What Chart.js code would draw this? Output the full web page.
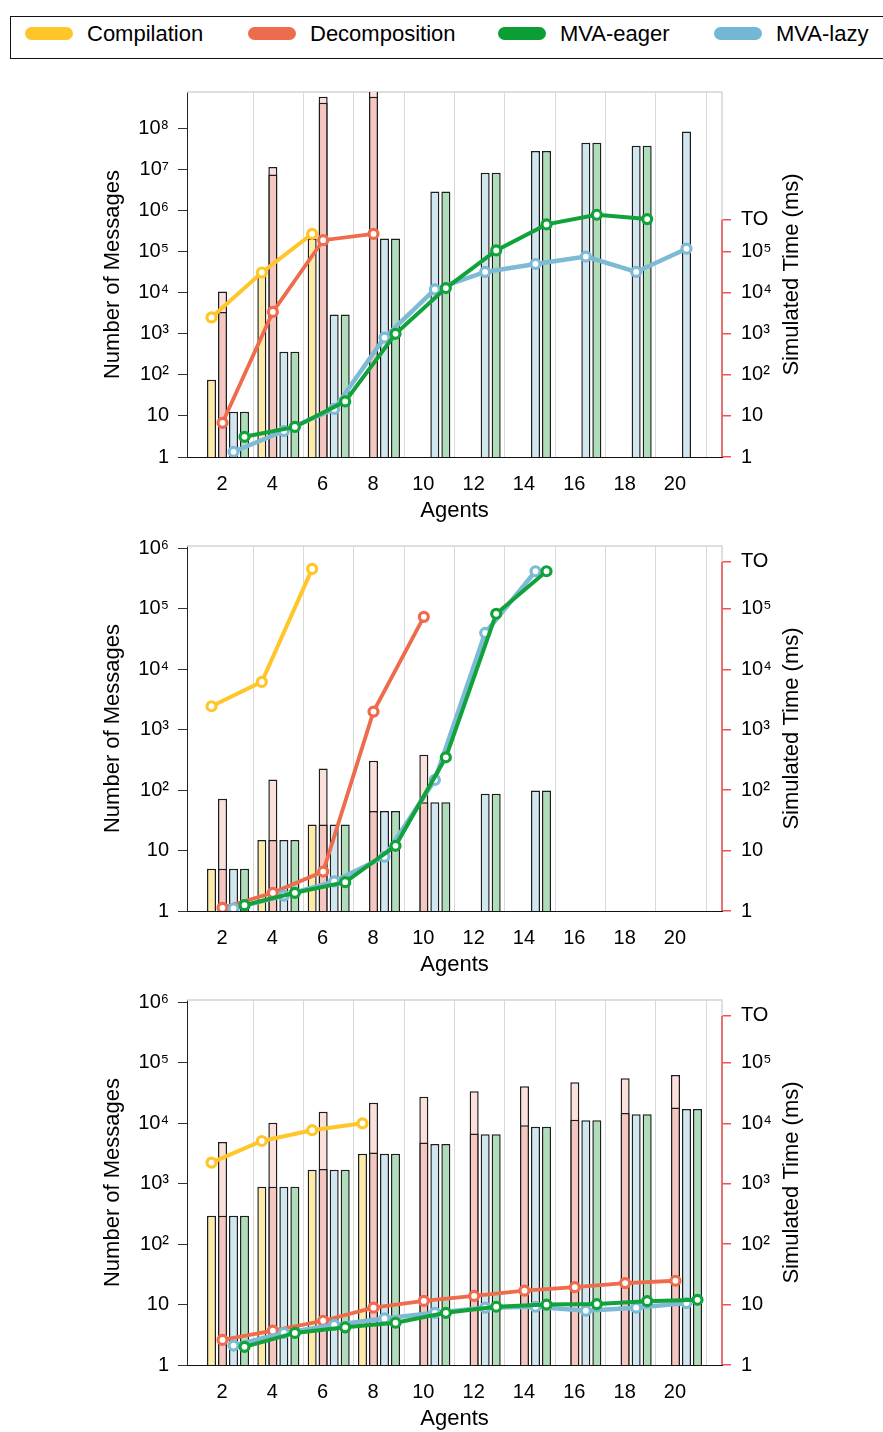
<!DOCTYPE html>
<html>
<head>
<meta charset="utf-8">
<script src="https://cdn.jsdelivr.net/npm/chart.js@4.4.1/dist/chart.umd.min.js"></script>
<style>
  body { margin: 0; width: 883px; height: 1432px; position: relative; background: #fff; overflow: hidden;
         font-family: "Liberation Sans", Arial, sans-serif; }
  #legend { position: absolute; left: 10px; top: 16px; width: 900px; height: 41px; border: 1px solid #111; }
  .item { position: absolute; top: 0; height: 33px; display: flex; align-items: center; font-size: 22px; color: #000; }
  .pill { width: 48px; height: 13px; border-radius: 7px; margin-right: 14px; }
  canvas { position: absolute; left: 0; }
</style>
</head>
<body>
<div id="legend">
  <div class="item" style="left:14px"><span class="pill" style="background:#FFC629"></span>Compilation</div>
  <div class="item" style="left:237px"><span class="pill" style="background:#EE6C4D"></span>Decomposition</div>
  <div class="item" style="left:487px"><span class="pill" style="background:#0A9E35"></span>MVA-eager</div>
  <div class="item" style="left:703px"><span class="pill" style="background:#73B7D5"></span>MVA-lazy</div>
</div>
<canvas id="c1" width="883" height="454" style="top:70px"></canvas>
<canvas id="c2" width="883" height="454" style="top:524px"></canvas>
<canvas id="c3" width="883" height="454" style="top:978px"></canvas>
<script>
// x categories
const agents = [2, 4, 6, 8, 10, 12, 14, 16, 18, 20];
const timeout = 6e5; // "TO" on the time axis
const timeTicks = [1, 10, 100, 1e3, 1e4, 1e5, timeout];

// panel 1 - number of messages (bars)
const p1CompMsgs        = [76, 2.6e4, 2.1e5, null, null, null, null, null, null, null];
const p1DecompMsgs      = [3400, 7.6e6, 4.2e8, 5.9e8, null, null, null, null, null, null];
const p1DecompMsgsTotal = [1.07e4, 1.15e7, 5.9e8, 1.5e9, null, null, null, null, null, null];
const p1LazyMsgs        = [12.7, 365, 2950, 2.1e5, 2.9e6, 8.3e6, 2.8e7, 4.5e7, 3.8e7, 8.4e7];
const p1EagerMsgs       = [12.7, 365, 2950, 2.1e5, 2.9e6, 8.3e6, 2.8e7, 4.5e7, 3.8e7, null];
// panel 1 - simulated time (lines)
const p1CompTime   = [2500, 3.1e4, 2.7e5, null, null, null, null, null, null, null];
const p1DecompTime = [6.8, 3400, 1.9e5, 2.7e5, null, null, null, null, null, null];
const p1LazyTime   = [1.34, 4.3, 14.8, 810, 1.2e4, 3.2e4, 5.0e4, 7.6e4, 3.2e4, 1.18e5];
const p1EagerTime  = [3.1, 5.4, 22.6, 1000, 1.3e4, 1.07e5, 4.6e5, 7.9e5, 6.2e5, null];

// panel 2
const p2CompMsgs        = [5, 15, 27, null, null, null, null, null, null, null];
const p2DecompMsgs      = [5, 15, 27, 45, 63, null, null, null, null, null];
const p2DecompMsgsTotal = [72, 150, 228, 308, 385, null, null, null, null, null];
const p2LazyMsgs        = [5, 15, 27, 45, 63, 87, 99, null, null, null];
const p2EagerMsgs       = [5, 15, 27, 45, 63, 87, 99, null, null, null];
const p2CompTime   = [2450, 6200, 4.6e5, null, null, null, null, null, null, null];
const p2DecompTime = [1.13, 2.0, 4.5, 2000, 7.4e4, null, null, null, null, null];
const p2LazyTime   = [1.1, 1.8, 3.1, 7.9, 148, 4.0e4, 4.2e5, null, null, null];
const p2EagerTime  = [1.25, 2.0, 3.0, 12, 350, 8.3e4, 4.2e5, null, null, null];

// panel 3
const p3CompMsgs        = [296, 890, 1700, 3150, null, null, null, null, null, null];
const p3DecompMsgs      = [296, 890, 1750, 3300, 4800, 6800, 9300, 1.15e4, 1.48e4, 1.82e4];
const p3DecompMsgsTotal = [4900, 1.02e4, 1.56e4, 2.2e4, 2.75e4, 3.4e4, 4.1e4, 4.8e4, 5.6e4, 6.3e4];
const p3LazyMsgs        = [296, 890, 1700, 3150, 4550, 6600, 8800, 1.12e4, 1.41e4, 1.73e4];
const p3EagerMsgs       = [296, 890, 1700, 3150, 4550, 6600, 8800, 1.12e4, 1.41e4, 1.73e4];
const p3CompTime   = [2240, 5100, 7700, 1.0e4, null, null, null, null, null, null];
const p3DecompTime = [2.6, 3.7, 5.4, 8.9, 11.5, 13.9, 17, 19.4, 22.7, 24.8];
const p3LazyTime   = [2.1, 3.4, 4.6, 5.9, 7.3, 8.9, 9.2, 7.9, 8.9, 10.6];
const p3EagerTime  = [2.0, 3.4, 4.2, 5.0, 7.3, 9.2, 10, 10.2, 11.4, 12];

const panels = [
  { id: 'c1', max: 7.7e8, comp: p1CompMsgs, decomp: p1DecompMsgs, decompTotal: p1DecompMsgsTotal, lazy: p1LazyMsgs, eager: p1EagerMsgs,
    compT: p1CompTime, decompT: p1DecompTime, lazyT: p1LazyTime, eagerT: p1EagerTime },
  { id: 'c2', max: 1.1e6, comp: p2CompMsgs, decomp: p2DecompMsgs, decompTotal: p2DecompMsgsTotal, lazy: p2LazyMsgs, eager: p2EagerMsgs,
    compT: p2CompTime, decompT: p2DecompTime, lazyT: p2LazyTime, eagerT: p2EagerTime },
  { id: 'c3', max: 1.1e6, comp: p3CompMsgs, decomp: p3DecompMsgs, decompTotal: p3DecompMsgsTotal, lazy: p3LazyMsgs, eager: p3EagerMsgs,
    compT: p3CompTime, decompT: p3DecompTime, lazyT: p3LazyTime, eagerT: p3EagerTime }
];

const RED = 'rgba(238,50,50,0.85)';
const SUP = { 2: '²', 3: '³', 4: '⁴', 5: '⁵', 6: '⁶', 7: '⁷', 8: '⁸', 9: '⁹' };
const powLabel = v => {
  const e = Math.round(Math.log10(v));
  return e === 0 ? '1' : e === 1 ? '10' : '10' + SUP[e];
};

Chart.defaults.font.family = '"Liberation Sans", Arial, sans-serif';
Chart.defaults.font.size = 20;
Chart.defaults.color = '#000';

// move each line point onto the centre of its own bar
const alignToBars = {
  id: 'alignToBars',
  afterDatasetsUpdate(chart) {
    chart.data.datasets.forEach((ds, i) => {
      if (ds.type !== 'line' || ds.barIndex === undefined) return;
      const bars = chart.getDatasetMeta(ds.barIndex).data;
      chart.getDatasetMeta(i).data.forEach((pt, j) => { if (bars[j]) pt.x = bars[j].x; });
    });
  }
};

// grey frame, red time axis (up to TO) and right-hand title
const frame = {
  id: 'frame',
  beforeDatasetsDraw(chart) {
    const { ctx, chartArea: a } = chart;
    ctx.save();
    ctx.strokeStyle = '#d4d4d4';
    ctx.lineWidth = 1.5;
    ctx.beginPath();
    ctx.moveTo(a.left, a.top); ctx.lineTo(a.right, a.top); ctx.lineTo(a.right, a.bottom);
    ctx.stroke();
    const yTO = chart.scales.y2.getPixelForValue(timeout);
    ctx.strokeStyle = RED;
    ctx.beginPath();
    ctx.moveTo(a.right, a.bottom); ctx.lineTo(a.right, yTO);
    ctx.stroke();
    ctx.restore();
  },
  afterDraw(chart) {
    const { ctx, chartArea: a } = chart;
    ctx.save();
    ctx.translate(a.right + 70, (a.top + a.bottom) / 2);
    ctx.rotate(-Math.PI / 2);
    ctx.font = '22px "Liberation Sans", Arial, sans-serif';
    ctx.fillStyle = '#000';
    ctx.textAlign = 'center';
    ctx.textBaseline = 'middle';
    ctx.fillText('Simulated Time (ms)', 0, 0);
    ctx.restore();
  }
};

function bar(label, data, fill, stack, order) {
  return { type: 'bar', label, data, backgroundColor: fill, borderColor: '#1e1e1e', borderWidth: 1.5,
           stack, order, yAxisID: 'y', clip: 0, categoryPercentage: 0.875, barPercentage: 0.82 };
}
function line(label, data, color, barIndex, width) {
  return { type: 'line', label, data, borderColor: color, backgroundColor: color, borderWidth: width,
           pointRadius: 4.5, pointHoverRadius: 4.5, pointBorderWidth: 3.2, pointBackgroundColor: '#fff',
           pointBorderColor: color, tension: 0, yAxisID: 'y2', order: 0, barIndex };
}

panels.forEach(p => {
  const datasets = [
    line('MVA-eager', p.eagerT, '#12A23B', 7, 4),
    line('MVA-lazy', p.lazyT, '#7DBAD6', 6, 4.5),
    line('Decomposition', p.decompT, '#EE6C4D', 5, 3.8),
    line('Compilation', p.compT, '#FFC629', 4, 4),
    bar('Compilation', p.comp, '#FFEBA8', 'comp', 1),
    bar('Decomposition', p.decomp, '#F6C7C0', 'decomp', 1),
    bar('MVA-lazy', p.lazy, '#D1E7EF', 'lazy', 1),
    bar('MVA-eager', p.eager, '#ADDEB9', 'eager', 1),
    bar('Decomposition total', p.decompTotal, '#FBE1DC', 'decomp', 2)
  ];
  new Chart(document.getElementById(p.id), {
    data: { labels: agents, datasets },
    plugins: [alignToBars, frame],
    options: {
      responsive: false,
      animation: false,
      layout: { padding: { top: 17, left: 0, right: 0, bottom: 0 } },
      plugins: { legend: { display: false }, tooltip: { enabled: false } },
      scales: {
        x: {
          type: 'linear', stacked: true, offset: false, min: 0.37, max: 21.63,
          afterBuildTicks: s => { s.ticks = agents.map(v => ({ value: v })); },
          afterFit: s => { s.height = 67; },
          ticks: { autoSkip: false, maxRotation: 0, padding: 15, labelOffset: -6, callback: v => String(v) },
          grid: { offset: true, drawTicks: false, lineWidth: 1,
                  color: c => c.index === 0 ? 'rgba(0,0,0,0)' : '#d9d9d9' },
          border: { color: '#111', width: 1 },
          title: { display: true, text: 'Agents', font: { size: 22 }, padding: { top: 0, bottom: 0 } }
        },
        y: {
          type: 'logarithmic', position: 'left', stacked: false, min: 1, max: p.max,
          afterBuildTicks: s => {
            const t = [];
            for (let v = 1; v <= s.max; v *= 10) t.push({ value: v });
            s.ticks = t;
          },
          afterFit: s => { s.width = 187; },
          ticks: { padding: 9, callback: v => powLabel(v) },
          grid: { drawOnChartArea: false, tickLength: 9, color: '#333' },
          border: { color: '#222', width: 1 },
          title: { display: true, text: 'Number of Messages', font: { size: 22 }, padding: { top: 100, bottom: 0 } }
        },
        y2: {
          type: 'logarithmic', position: 'right', min: 1, max: p.max,
          afterBuildTicks: s => { s.ticks = timeTicks.map(v => ({ value: v })); },
          afterFit: s => { s.width = 161; },
          ticks: { padding: 10, callback: v => v === timeout ? 'TO' : powLabel(v) },
          grid: { drawOnChartArea: false, tickLength: 9, color: RED, lineWidth: 1.5 },
          border: { display: false }
        }
      }
    }
  });
});
</script>
</body>
</html>
